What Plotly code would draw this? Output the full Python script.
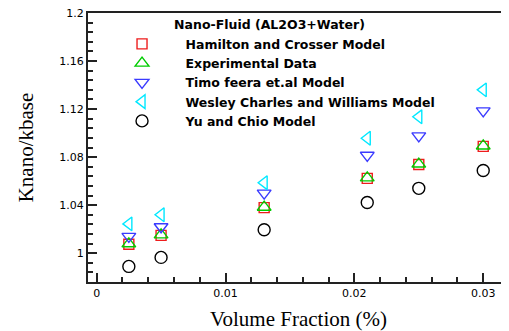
import plotly.graph_objects as go

volume_fraction = [0.0025, 0.005, 0.013, 0.021, 0.025, 0.030]
hamilton = [1.0074, 1.0148, 1.0379, 1.0623, 1.0738, 1.0889]
experimental = [1.0078, 1.0152, 1.0383, 1.0627, 1.0742, 1.0893]
timo = [1.0140, 1.0220, 1.0500, 1.0815, 1.0977, 1.1185]
wesley = [1.0244, 1.0320, 1.0587, 1.0957, 1.1136, 1.1360]
yu = [0.9890, 0.9965, 1.0195, 1.0422, 1.0540, 1.0689]

series = [
    ("Hamilton and Crosser Model", hamilton, "square-open", "#ee1c1c", 10),
    ("Experimental Data", experimental, "triangle-up-open", "#00cc00", 12),
    ("Timo feera et.al Model", timo, "triangle-down-open", "#3a3aff", 12),
    ("Wesley Charles and Williams Model", wesley, "triangle-left-open", "#00e8ff", 12),
    ("Yu and Chio Model", yu, "circle-open", "#000000", 12),
]

x_range = [-0.00067, 0.0320]

fig = go.Figure()
for name, vals, sym, col, sz in series:
    fig.add_trace(go.Scatter(
        x=volume_fraction, y=vals, mode="markers", name=name,
        marker=dict(symbol=sym, size=sz, color=col, line=dict(width=1.4, color=col)),
    ))

# the page body adds an 8px offset, so the figure is sized to fit the remaining window
fig.update_layout(
    width=501, height=323,
    margin=dict(l=80, r=0, t=5, b=49),
    paper_bgcolor="white", plot_bgcolor="white",
    showlegend=True,
    legend=dict(
        x=0.025, y=1.0, xanchor="left", yanchor="top",
        bgcolor="rgba(0,0,0,0)",
        font=dict(family="DejaVu Sans", size=12.5, color="black", weight="bold"),
        title=dict(text="<b>Nano-Fluid (AL2O3+Water)</b>", side="top center",
                   font=dict(family="DejaVu Sans", size=12.5, color="black")),
        itemwidth=77,
        tracegroupgap=0,
    ),
    xaxis=dict(
        range=x_range,
        tick0=0, dtick=0.01,
        ticks="inside", ticklen=9, tickwidth=2, tickcolor="#222",
        minor=dict(ticks="inside", ticklen=5, dtick=0.002, tickwidth=1.5, tickcolor="#222"),
        showline=True, linewidth=2, linecolor="#222", mirror=True,
        showgrid=False, zeroline=False, automargin=False,
        ticklabeloverflow="allow",
        tickfont=dict(family="DejaVu Sans", size=11, color="black"),
        title=dict(text="Volume Fraction (%)", standoff=12,
                   font=dict(family="Liberation Serif", size=21, color="black")),
    ),
    xaxis2=dict(
        overlaying="x", side="top", matches="x",
        showline=True, linewidth=2, linecolor="#222",
        showticklabels=False, ticks="", showgrid=False, zeroline=False,
        automargin=False,
    ),
    yaxis=dict(
        range=[0.976, 1.2],
        tick0=1, dtick=0.04,
        ticks="inside", ticklen=9, tickwidth=2, tickcolor="#222",
        minor=dict(ticks="inside", ticklen=5, dtick=0.008, tickwidth=1.5, tickcolor="#222"),
        showline=True, linewidth=2, linecolor="#222",
        showgrid=False, zeroline=False, automargin=False,
        ticklabeloverflow="allow",
        tickfont=dict(family="DejaVu Sans", size=11, color="black"),
        title=dict(text="Knano/kbase", standoff=20,
                   font=dict(family="Liberation Serif", size=21, color="black")),
    ),
)

fig.write_html("out.html")
